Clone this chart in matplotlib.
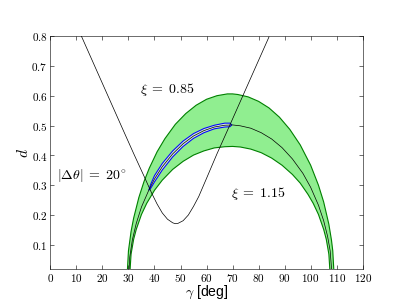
import matplotlib
matplotlib.use("Agg")
import matplotlib.pyplot as plt
from matplotlib.ticker import FuncFormatter, MultipleLocator

plt.rcParams["mathtext.fontset"] = "cm"
plt.rcParams["font.family"] = ["Liberation Sans", "DejaVu Sans"]

# --- кривая xi = 0.85 (верхняя граница зелёной области) ---
g_hi = [29.5, 30, 31, 32, 34, 36, 38, 41, 44, 48, 52, 56, 60, 64, 68, 70, 72,
        76, 80, 84, 88, 92, 96, 100, 103, 105, 107, 108, 108.5, 109]
d_hi = [0.0, 0.080, 0.145, 0.190, 0.259, 0.313, 0.357, 0.412, 0.456, 0.504,
        0.540, 0.568, 0.588, 0.600, 0.606, 0.606, 0.604, 0.596, 0.581, 0.559,
        0.528, 0.487, 0.435, 0.367, 0.300, 0.244, 0.169, 0.116, 0.080, 0.0]

# --- кривая xi = 1.15 (нижняя граница) ---
g_lo = [30.5, 31, 32, 33, 35, 37, 40, 43, 47, 51, 55, 59, 63, 67, 70, 73, 77,
        81, 85, 89, 93, 96, 99, 101, 103, 105, 106, 107, 107.5]
d_lo = [0.0, 0.069, 0.119, 0.152, 0.202, 0.239, 0.283, 0.317, 0.353, 0.380,
        0.401, 0.415, 0.425, 0.429, 0.430, 0.428, 0.421, 0.409, 0.391, 0.367,
        0.336, 0.307, 0.269, 0.239, 0.202, 0.152, 0.119, 0.069, 0.0]

# --- xi = 1 (средняя чёрная) ---
g_mid = [30.1, 30.5, 31.5, 33, 35, 37.8, 40, 43, 47, 51, 55, 59, 63, 67, 70,
         73, 77, 81, 85, 89, 93, 97, 100, 103, 105, 106.5, 107.5, 108.2]
d_mid = [0.0, 0.059, 0.117, 0.172, 0.227, 0.283, 0.321, 0.362, 0.405, 0.439,
         0.465, 0.483, 0.495, 0.501, 0.502, 0.499, 0.491, 0.476, 0.455, 0.426,
         0.388, 0.340, 0.293, 0.233, 0.181, 0.129, 0.080, 0.0]

# --- синяя полоса |dtheta| = 20 deg ---
g_blue_up = [37.8, 38.5, 40, 43, 47, 51, 55, 59, 63, 67, 69, 69.7]
d_blue_up = [0.283, 0.302, 0.332, 0.373, 0.415, 0.448, 0.473, 0.490, 0.501,
             0.508, 0.508, 0.502]
g_blue_lo = [69.7, 69, 67, 63, 59, 55, 51, 47, 43, 40, 38.5, 37.8]
d_blue_lo = [0.502, 0.496, 0.495, 0.489, 0.476, 0.457, 0.430, 0.395, 0.351,
             0.311, 0.289, 0.283]

# --- V-образная кривая ---
g_v = [11.9, 20, 28, 32, 36, 39, 41, 43, 45, 47, 48, 49, 51, 53, 55, 57, 60,
       64, 70, 76, 84]
d_v = [0.800, 0.641, 0.484, 0.406, 0.330, 0.272, 0.237, 0.207, 0.186, 0.174,
       0.171, 0.172, 0.181, 0.200, 0.229, 0.262, 0.323, 0.405, 0.522, 0.640,
       0.797]

fig, ax = plt.subplots(figsize=(8, 6), dpi=50.375)

ax.fill(g_hi + g_lo[::-1], d_hi + d_lo[::-1], color="#90ee90", lw=0, zorder=1)
ax.plot(g_hi, d_hi, color="green", lw=1.6, zorder=2)
ax.plot(g_lo, d_lo, color="green", lw=1.6, zorder=2)
ax.fill(g_blue_up + g_blue_lo, d_blue_up + d_blue_lo, facecolor="#d6ecd6",
        edgecolor="blue", lw=1.5, zorder=3)
ax.plot(g_mid, d_mid, color="black", lw=1.0, zorder=4)
ax.plot(g_v, d_v, color="black", lw=1.0, zorder=5)

ax.text(45, 0.622, r"$\xi\;=\;0.85$", fontsize=20, ha="center", va="center")
ax.text(80, 0.273, r"$\xi\;=\;1.15$", fontsize=20, ha="center", va="center")
ax.text(16, 0.332, r"$|\Delta\theta|\;=\;20^{\!\circ}$", fontsize=20,
        ha="center", va="center")

ax.set_xlim(0, 120)
ax.set_ylim(0.02, 0.8)
ax.xaxis.set_major_locator(MultipleLocator(10))
ax.yaxis.set_major_locator(MultipleLocator(0.1))
ax.xaxis.set_major_formatter(FuncFormatter(lambda v, p: rf"${v:g}$"))
ax.yaxis.set_major_formatter(FuncFormatter(lambda v, p: rf"${v:.1f}$"))
ax.tick_params(direction="in", top=True, right=True, length=6, width=0.8,
               labelsize=16, pad=4)
ax.set_xlabel(r"$\gamma$ [deg]", fontsize=20, labelpad=0)
ax.set_ylabel(r"$d$", fontsize=22, labelpad=0)

fig.savefig("out.png", dpi=50.375)
